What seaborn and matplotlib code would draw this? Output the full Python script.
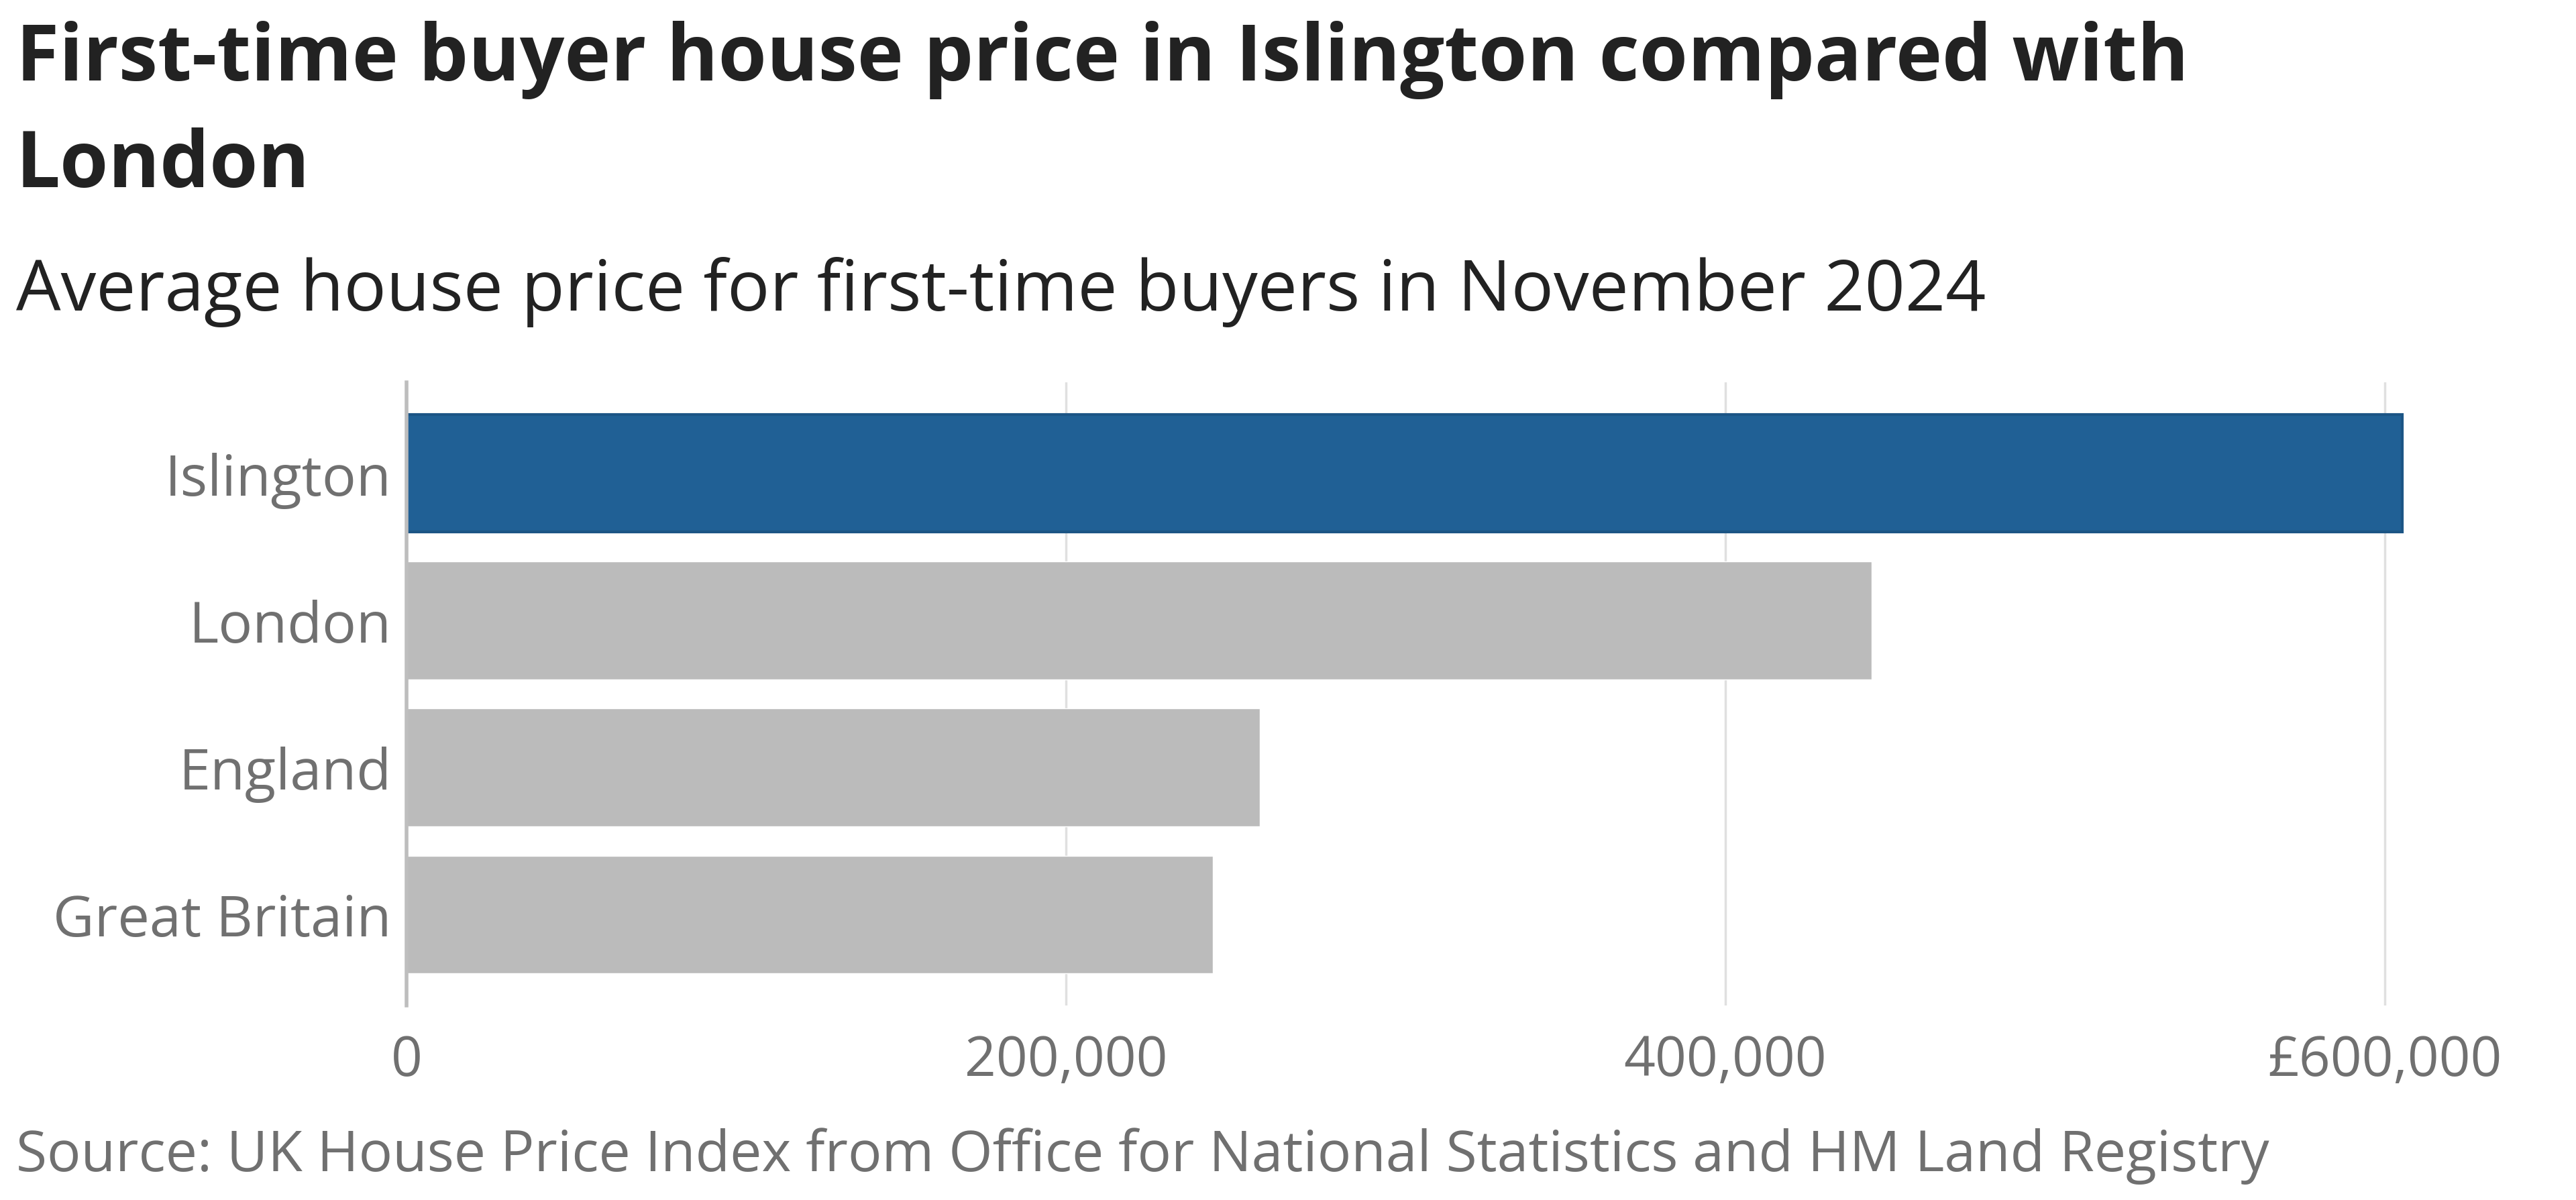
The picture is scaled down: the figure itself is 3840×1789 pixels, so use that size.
import matplotlib
matplotlib.use("Agg")
import matplotlib.pyplot as plt
import seaborn as sns
import pandas as pd

# data (November 2024, first-time buyers)
areas = ["Islington", "London", "England", "Great Britain"]
prices = [605200, 444300, 258800, 244600]
bar_colours = ["#206095", "#BBBBBB", "#BBBBBB", "#BBBBBB"]
tick_values = [0, 200000, 400000, 600000]
tick_labels = ["0", "200,000", "400,000", "£600,000"]

title = "First-time buyer house price in Islington compared with\nLondon"
subtitle = "Average house price for first-time buyers in November 2024"
source = "Source: UK House Price Index from Office for National Statistics and HM Land Registry"

sns.set_theme(style="white")
plt.rcParams["font.family"] = ["Open Sans", "DejaVu Sans"]

W, H, DPI = 3840, 1790, 100
fig = plt.figure(figsize=(W / DPI, H / DPI), dpi=DPI)

# axes placed in pixel terms: x=0 at 606px, 200k = 983px
left_px, top_px, bottom_px = 606, 571, 1500
xmax = 640000
right_px = left_px + xmax / 200000 * 983
ax = fig.add_axes([left_px / W, 1 - bottom_px / H,
                   (right_px - left_px) / W, (bottom_px - top_px) / H])

df = pd.DataFrame({"area": areas, "price": prices})
sns.barplot(data=df, x="price", y="area", hue="area", palette=bar_colours,
            order=areas, hue_order=areas, orient="h", width=0.8,
            legend=False, saturation=1, ax=ax, zorder=3)
# the highlighted bar has a thin outline in the original
ax.patches[0].set_edgecolor("#1C5585")
ax.patches[0].set_linewidth(3)

ax.set_xlim(0, xmax)
ax.set_ylim(3.62, -0.62)
ax.set_xticks(tick_values)
ax.set_xticklabels(tick_labels)
ax.set_xlabel("")
ax.set_ylabel("")
ax.grid(axis="x", color="#E0E0E0", linewidth=2.5, zorder=0)
ax.grid(axis="y", visible=False)
for s in ["top", "right", "bottom"]:
    ax.spines[s].set_visible(False)
ax.spines["left"].set_color("#BEBEBE")
ax.spines["left"].set_linewidth(4)
ax.spines["left"].set_zorder(4)
ax.tick_params(axis="both", length=0, labelcolor="#707070")
ax.tick_params(axis="y", pad=16, labelsize=61)
ax.tick_params(axis="x", pad=30, labelsize=59)


def fit(txt, target_px):
    # scale font so the rendered width matches the reference
    r = fig.canvas.get_renderer()
    w = txt.get_window_extent(renderer=r).width
    txt.set_fontsize(txt.get_fontsize() * target_px / w)


t1 = fig.text(24 / W, 1 - 89 / H, title.split("\n")[0], fontsize=88,
              fontweight="bold", color="#222222", va="center", ha="left")
fit(t1, 3240)
fig.text(24 / W, 1 - 248 / H, title.split("\n")[1], fontsize=t1.get_fontsize(),
         fontweight="bold", color="#222222", va="center", ha="left")
st = fig.text(24 / W, 1 - 436 / H, subtitle, fontsize=80, color="#222222",
              va="center", ha="left")
fit(st, 2934)
so = fig.text(24 / W, 1 - 1724 / H, source, fontsize=68, color="#707070",
              va="center", ha="left")
fit(so, 3363)

fig.savefig("out.png", dpi=DPI, facecolor="white")
